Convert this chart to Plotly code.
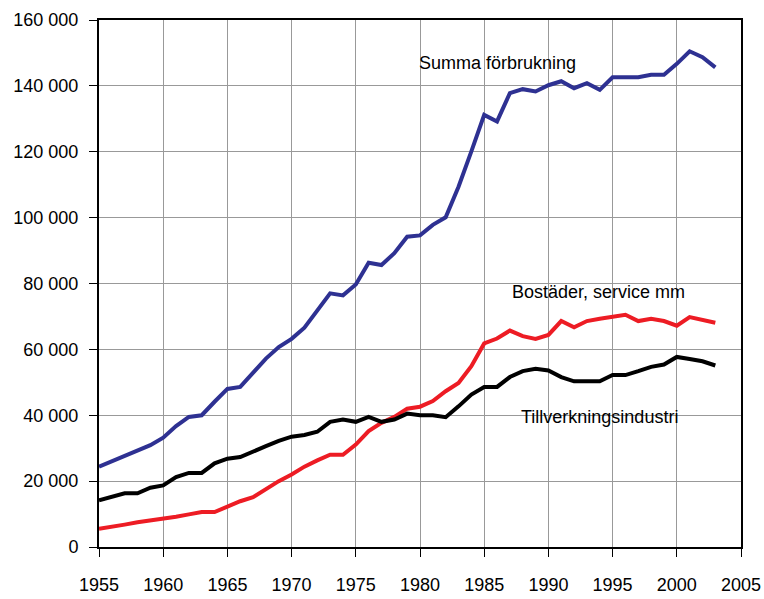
import plotly.graph_objects as go

years = list(range(1955, 2004))

# thousands of units
summa = [24.4, 26.1, 27.8, 29.3, 30.9, 33.2, 36.7, 39.5, 40.0, 44.1,
         48.0, 48.6, 52.7, 57.2, 60.7, 63.2, 66.6, 71.6, 77.0, 76.4,
         79.7, 86.3, 85.6, 89.2, 94.2, 94.6, 97.8, 100.1, 109.4, 120.1,
         131.2, 129.2, 137.8, 139.0, 138.3, 140.2, 141.4, 139.3, 140.8, 138.8,
         142.6, 142.6, 142.6, 143.4, 143.4, 146.7, 150.5, 148.7, 145.6]
bostader = [5.5, 6.3, 6.8, 7.5, 8.0, 8.7, 9.2, 9.9, 10.6, 10.6,
            12.4, 13.9, 15.1, 17.7, 20.0, 22.0, 24.4, 26.3, 28.0, 28.0,
            31.1, 35.2, 37.7, 39.5, 42.0, 42.6, 44.3, 47.3, 49.8, 54.9,
            61.8, 63.3, 65.7, 64.0, 63.2, 64.4, 68.6, 66.7, 68.6, 69.3,
            69.8, 70.5, 68.6, 69.3, 68.6, 67.2, 69.8, 68.8, 68.1]
tillverkning = [14.2, 15.2, 16.3, 16.3, 18.0, 18.7, 21.2, 22.5, 22.5, 25.4,
                26.8, 27.3, 29.1, 30.6, 32.2, 33.5, 34.0, 35.0, 38.0, 38.7,
                38.0, 39.5, 38.0, 38.7, 40.5, 40.0, 40.0, 39.4, 42.7, 46.3,
                48.6, 48.6, 51.6, 53.4, 54.1, 53.6, 51.6, 50.3, 50.3, 50.3,
                52.2, 52.2, 53.4, 54.7, 55.4, 57.7, 57.1, 56.4, 55.1]

series = [
    ("Summa förbrukning", summa, "#2E3192"),
    ("Bostäder, service mm", bostader, "#ED1C24"),
    ("Tillverkningsindustri", tillverkning, "#000000"),
]

labels = [
    ("Summa förbrukning", 1979.8, 146800),
    ("Bostäder, service mm", 1987.0, 77500),
    ("Tillverkningsindustri", 1987.7, 39500),
]

fig = go.Figure()
for name, vals, color in series:
    fig.add_trace(go.Scatter(
        x=years, y=[v * 1000 for v in vals], mode="lines", name=name,
        line=dict(color=color, width=4), showlegend=False))

for text, x, y in labels:
    fig.add_annotation(x=x, y=y, text=text, showarrow=False, xanchor="left",
                       yanchor="middle", font=dict(size=18, color="black"))

axis_style = dict(showgrid=True, gridcolor="#999999", gridwidth=1,
                  showline=True, linecolor="black", linewidth=2, mirror=True,
                  ticks="outside", ticklen=8, tickcolor="black",
                  automargin=False, zeroline=False,
                  tickfont=dict(size=18, color="black"))
fig.update_xaxes(range=[1955, 2005], dtick=5, tick0=1955,
                 ticklabelstandoff=12, **axis_style)
fig.update_yaxes(range=[0, 160000], dtick=20000, tickformat=",d",
                 ticklabelstandoff=7, **axis_style)

fig.update_layout(width=764, height=599, separators=", ",
                  margin=dict(l=99, r=23, t=20, b=52),
                  plot_bgcolor="white", paper_bgcolor="white",
                  font=dict(family="Liberation Sans, Arial, sans-serif"))

# drop the browser's default body margin so the plot sits at the page corner
fig.write_html("out.html", config={"displayModeBar": False},
               post_script="document.body.style.margin='0';")
